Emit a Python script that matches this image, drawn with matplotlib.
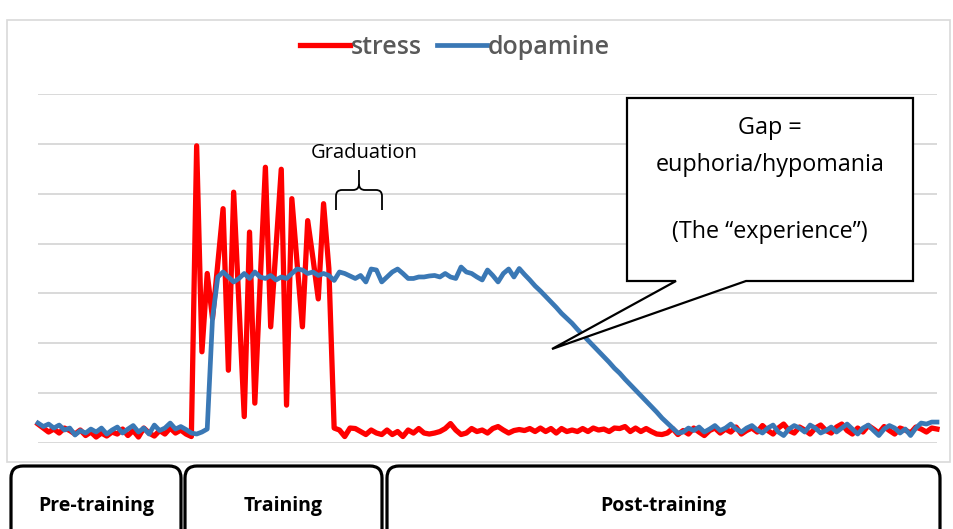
import numpy as np
import matplotlib
matplotlib.use("Agg")
import matplotlib.pyplot as plt
from matplotlib.transforms import Affine2D
from matplotlib.patches import Polygon, FancyBboxPatch, Rectangle, PathPatch
from matplotlib.path import Path

# ---------------- data ----------------
# stress (red), by phase
stress_pre = [0.38, 0.3, 0.22, 0.28, 0.2, 0.3, 0.25, 0.18, 0.26, 0.15,
              0.22, 0.12, 0.2, 0.14, 0.22, 0.18, 0.28, 0.15, 0.25, 0.12,
              0.3, 0.2, 0.14, 0.25, 0.18, 0.3, 0.2, 0.26, 0.18, 0.13]
stress_training = [5.96, 1.83, 3.4, 2.5, 3.6, 4.7, 1.46, 5.03, 2.8, 0.53,
                   4.23, 0.8, 3.2, 5.53, 2.33, 3.9, 5.49, 0.76, 4.9, 3.6,
                   2.33, 4.46, 3.7, 2.89, 4.8, 3.5, 0.3]
stress_post = [0.26, 0.13, 0.3, 0.29, 0.23, 0.17, 0.26, 0.2, 0.17, 0.26,
               0.17, 0.23, 0.13, 0.26, 0.2, 0.29, 0.2, 0.18, 0.2, 0.23,
               0.29, 0.39, 0.26, 0.17, 0.2, 0.29, 0.23, 0.26, 0.2, 0.29,
               0.33, 0.26, 0.2, 0.25, 0.27, 0.25, 0.29, 0.23, 0.3, 0.23,
               0.29, 0.2, 0.29, 0.23, 0.26, 0.23, 0.29, 0.23, 0.3, 0.26,
               0.28, 0.23, 0.3, 0.29, 0.33, 0.23, 0.3, 0.23, 0.29, 0.23,
               0.18, 0.17, 0.2, 0.29, 0.17]
stress_late = [0.25, 0.18, 0.3, 0.22, 0.15, 0.25, 0.3, 0.2, 0.28, 0.22,
               0.32, 0.18, 0.25, 0.3, 0.22, 0.35, 0.25, 0.18, 0.3, 0.38,
               0.25, 0.2, 0.32, 0.26, 0.18, 0.3, 0.36, 0.25, 0.2, 0.32,
               0.38, 0.25, 0.18, 0.3, 0.22, 0.35, 0.28, 0.2, 0.33, 0.25,
               0.18, 0.3, 0.26, 0.2, 0.32, 0.28, 0.22, 0.3, 0.28]

# dopamine (blue), by phase
dopamine_pre = [0.4, 0.33, 0.38, 0.3, 0.36, 0.26, 0.3, 0.16, 0.25, 0.2,
                0.28, 0.22, 0.3, 0.18, 0.26, 0.32, 0.2, 0.28, 0.35, 0.22,
                0.3, 0.18, 0.36, 0.25, 0.3, 0.4, 0.28, 0.33, 0.27, 0.2,
                0.18, 0.22, 0.28]
dopamine_rise = [2.5]
dopamine_training = [3.33, 3.43, 3.33, 3.23, 3.3, 3.4, 3.3, 3.43, 3.33, 3.3,
                     3.36, 3.27, 3.33, 3.3, 3.4, 3.49, 3.47, 3.4, 3.43, 3.36,
                     3.4, 3.36, 3.26]
dopamine_plateau = [3.43, 3.4, 3.35, 3.3, 3.36, 3.23, 3.49, 3.47, 3.23, 3.33,
                    3.43, 3.49, 3.4, 3.3, 3.3, 3.33, 3.33, 3.35, 3.36, 3.33,
                    3.4, 3.33, 3.3, 3.53, 3.43, 3.4, 3.33, 3.27, 3.47, 3.36,
                    3.23, 3.4, 3.49, 3.33, 3.5]
dopamine_decline = [3.38, 3.27, 3.15, 3.05, 2.94, 2.83, 2.72, 2.6, 2.5, 2.4,
                    2.28, 2.17, 2.06, 1.95, 1.84, 1.73, 1.62, 1.5, 1.4, 1.28,
                    1.17, 1.06, 0.95, 0.84, 0.73, 0.62, 0.5, 0.4, 0.3, 0.2]
dopamine_late = [0.22, 0.3, 0.25, 0.32, 0.22, 0.28, 0.35, 0.25, 0.3, 0.38,
                 0.28, 0.22, 0.3, 0.35, 0.26, 0.2, 0.3, 0.36, 0.22, 0.15,
                 0.28, 0.35, 0.3, 0.22, 0.36, 0.3, 0.2, 0.25, 0.32, 0.22,
                 0.3, 0.38, 0.28, 0.18, 0.3, 0.36, 0.25, 0.15, 0.28, 0.35,
                 0.3, 0.2, 0.28, 0.15, 0.3, 0.4, 0.38, 0.42, 0.42]

series_labels = ["stress", "dopamine"]
phase_labels = ["Pre-training", "Training", "Post-training"]
callout_lines = ["Gap =", "euphoria/hypomania", "", "(The \u201cexperience\u201d)"]
brace_label = "Graduation"

stress = np.array(stress_pre + stress_training + stress_post + stress_late)
dopamine = np.array(dopamine_pre + dopamine_rise + dopamine_training +
                    dopamine_plateau + dopamine_decline + dopamine_late)
t = np.arange(len(stress))

# ---------------- figure ----------------
W, H = 954, 529
fig = plt.figure(figsize=(W / 100, H / 100), dpi=100)
fig.patch.set_facecolor("white")
pix = Affine2D().scale(1 / W, -1 / H).translate(0, 1) + fig.transFigure

FONT = "Open Sans"

# chart frame
fig.add_artist(Rectangle((7, 20), 943, 442, transform=pix, fill=False,
                         ec="#d9d9d9", lw=1.2, zorder=-2))

ax = fig.add_axes([38 / W, 1 - 443 / H, 899 / W, 349 / H])
ax.patch.set_alpha(0)
ax.set_xlim(0, len(t) - 1)
ax.set_ylim(0, 7)
ax.set_yticks(np.arange(0, 8))
ax.yaxis.grid(True, color="#d9d9d9", lw=1.4)
ax.set_axisbelow(True)
ax.tick_params(length=0, labelleft=False, labelbottom=False)
for s in ax.spines.values():
    s.set_visible(False)

l_red, = ax.plot(t, stress, color="#ff0000", lw=3.8, solid_joinstyle="round",
                 clip_on=False, zorder=3)
l_blue, = ax.plot(t, dopamine, color="#3a78b5", lw=3.4, solid_joinstyle="round",
                  clip_on=False, zorder=4)

fig.legend(handles=[l_red, l_blue], labels=series_labels, loc="center",
           bbox_to_anchor=(455 / W, 1 - 47 / H), ncol=2, frameon=False,
           prop=dict(family=FONT, size=18, weight="semibold"),
           labelcolor="#595959", handlelength=2.0, handletextpad=0.05,
           columnspacing=0.6)

# Graduation brace
verts = [(336, 210), (336, 196), (336, 190), (342, 190), (353, 190),
         (359, 190), (359, 184), (359, 170),
         (359, 184), (359, 190), (365, 190), (376, 190), (382, 190),
         (382, 196), (382, 210)]
codes = [Path.MOVETO, Path.LINETO, Path.CURVE3, Path.CURVE3, Path.LINETO,
         Path.CURVE3, Path.CURVE3, Path.LINETO,
         Path.MOVETO, Path.CURVE3, Path.CURVE3, Path.LINETO, Path.CURVE3,
         Path.CURVE3, Path.LINETO]
fig.add_artist(PathPatch(Path(verts, codes), transform=pix, fill=False,
                         ec="black", lw=1.3, zorder=6))
fig.text(364, 153, brace_label, transform=pix, ha="center", va="center",
         family=FONT, fontsize=14.5, color="black", zorder=7)

# callout
fig.add_artist(Polygon([(627, 98), (913, 98), (913, 281), (746, 281),
                        (552, 349), (676, 281), (627, 281)], closed=True,
                       transform=pix, fc="white", ec="black", lw=1.6, zorder=6))
for yy, line in zip([128, 165, 198, 232], callout_lines):
    if line:
        fig.text(770, yy, line, transform=pix, ha="center", va="center",
                 family=FONT, fontsize=16.8, color="black", zorder=7)

# phase boxes
boxes = [(11, 181), (185, 382), (387, 940)]
for (x0, x1), lab in zip(boxes, phase_labels):
    fig.add_artist(FancyBboxPatch((x0, 466), x1 - x0, 90,
                                  boxstyle="round,pad=0,rounding_size=12",
                                  transform=pix, fc="white", ec="black",
                                  lw=2.3, zorder=6))
    fig.text((x0 + x1) / 2, 506, lab, transform=pix, ha="center", va="center",
             family=FONT, fontsize=14, weight="bold", color="black", zorder=7)

fig.savefig("out.png", dpi=100, facecolor="white")
